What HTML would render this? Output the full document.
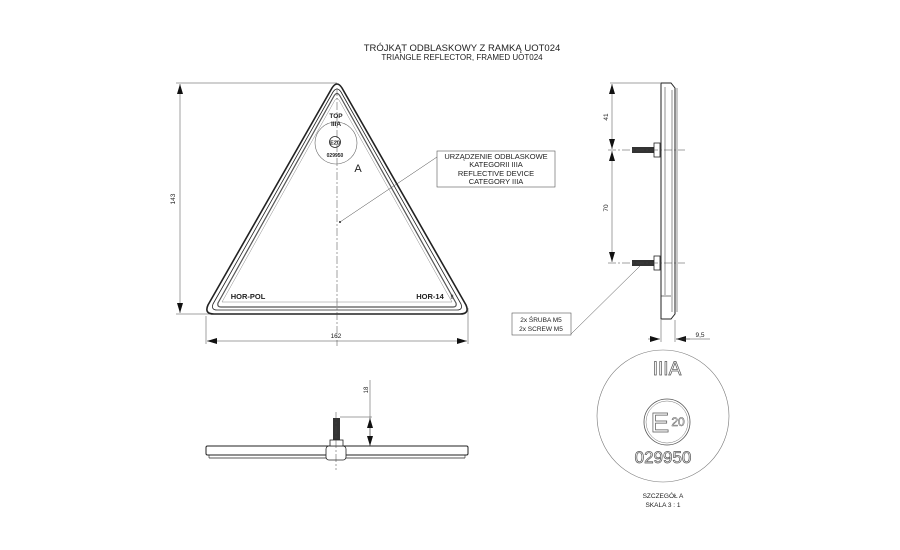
<!DOCTYPE html>
<html><head><meta charset="utf-8"><style>
html,body{margin:0;padding:0;background:#fff;width:900px;height:550px;overflow:hidden}
text{font-family:"Liberation Sans",sans-serif;fill:#222}
</style></head><body>
<svg width="900" height="550" viewBox="0 0 900 550" xmlns="http://www.w3.org/2000/svg">
<defs>
<marker id="ar" viewBox="0 0 10 6" refX="10" refY="3" markerWidth="10" markerHeight="6" orient="auto-start-reverse" markerUnits="userSpaceOnUse"><path d="M0,0L10,3L0,6z" fill="#111"/></marker>
</defs>
<!-- title -->
<text x="462" y="51" font-size="9.5" text-anchor="middle">TRÓJKĄT ODBLASKOWY Z RAMKĄ UOT024</text>
<text x="462" y="60" font-size="8" text-anchor="middle">TRIANGLE REFLECTOR, FRAMED UOT024</text>

<!-- triangle -->
<g fill="none" stroke="#222" stroke-linejoin="round">
<path d="M332,88 Q337,80 342,88 L466,305 Q470,314 460,314 L214,314 Q204,314 208,305 Z" stroke-width="1.6"/>
<path d="M333,92 Q337,86 341,92 L461,304 Q463,310 457,310 L217,310 Q211,310 213,304 Z" stroke-width="0.8"/>
<path d="M334,96 Q337,91 340,96 L456,303 Q457,307 453,307 L221,307 Q217,307 218,303 Z" stroke-width="1.2" stroke="#555"/>
<path d="M335,100 Q337,97 339,100 L452,302 L222,302 Z" stroke-width="0.5" stroke="#888"/>
</g>
<line x1="337" y1="88" x2="337" y2="346" stroke="#444" stroke-width="0.5" stroke-dasharray="8,2,2,2"/>
<circle cx="336" cy="143" r="21" fill="none" stroke="#666" stroke-width="0.6"/>
<text x="336" y="118" font-size="6.5" font-weight="bold" text-anchor="middle">TOP</text>
<text x="336" y="126" font-size="6.5" font-weight="bold" text-anchor="middle">IIIA</text>
<circle cx="335" cy="142" r="5.5" fill="none" stroke="#222" stroke-width="0.8"/>
<text x="335" y="144.5" font-size="5.5" font-weight="bold" text-anchor="middle">E20</text>
<text x="335" y="157" font-size="5" font-weight="bold" text-anchor="middle">029950</text>
<text x="358" y="172" font-size="11" text-anchor="middle">A</text>
<circle cx="340" cy="222" r="1" fill="#222"/>
<line x1="340" y1="222" x2="437" y2="157" stroke="#444" stroke-width="0.5"/>
<rect x="437" y="151" width="118" height="36" fill="#fff" stroke="#555" stroke-width="0.6"/>
<g font-size="7.5" text-anchor="middle">
<text x="496" y="159">URZĄDZENIE ODBLASKOWE</text>
<text x="496" y="167">KATEGORII IIIA</text>
<text x="496" y="176">REFLECTIVE DEVICE</text>
<text x="496" y="184">CATEGORY IIIA</text>
</g>
<text x="248" y="299" font-size="7.5" font-weight="bold" text-anchor="middle">HOR-POL</text>
<text x="430" y="299" font-size="7.5" font-weight="bold" text-anchor="middle">HOR-14</text>
<text x="452" y="299" font-size="6" text-anchor="middle">II</text>

<!-- dims triangle -->
<g stroke="#444" stroke-width="0.5">
<line x1="176" y1="83" x2="337" y2="83"/>
<line x1="176" y1="314" x2="210" y2="314"/>
<line x1="180" y1="84" x2="180" y2="313" marker-start="url(#ar)" marker-end="url(#ar)"/>
<line x1="206" y1="316" x2="206" y2="344"/>
<line x1="468" y1="308" x2="468" y2="344"/>
<line x1="207" y1="341" x2="467" y2="341" marker-start="url(#ar)" marker-end="url(#ar)"/>
</g>
<text x="175" y="199" font-size="6.5" text-anchor="middle" transform="rotate(-90 175 199)">143</text>
<text x="336" y="338" font-size="6.5" text-anchor="middle">162</text>

<!-- side view -->
<g fill="none" stroke="#222">
<path d="M661,83 L671,83 L675,88 L675,314 L671,319 L661,319 Z" stroke-width="1"/>
<line x1="665" y1="87" x2="665" y2="295" stroke-width="0.5"/>
<line x1="672" y1="90" x2="672" y2="312" stroke-width="0.5"/>
<line x1="661" y1="296" x2="671" y2="296" stroke-width="0.6"/>
<line x1="677" y1="88" x2="677" y2="312" stroke-width="0.5"/>
</g>
<g>
<rect x="632" y="147" width="22" height="6" fill="#333"/>
<rect x="654" y="143" width="6" height="14" fill="#fff" stroke="#222" stroke-width="0.8"/>
<rect x="632" y="260" width="22" height="6" fill="#333"/>
<rect x="654" y="256" width="6" height="14" fill="#fff" stroke="#222" stroke-width="0.8"/>
</g>
<g stroke="#444" stroke-width="0.5">
<line x1="608" y1="150" x2="685" y2="150" stroke-dasharray="8,2,2,2"/>
<line x1="608" y1="263" x2="685" y2="263" stroke-dasharray="8,2,2,2"/>
<line x1="610" y1="83" x2="660" y2="83"/>
<line x1="612" y1="84" x2="612" y2="149" marker-start="url(#ar)" marker-end="url(#ar)"/>
<line x1="612" y1="151" x2="612" y2="262" marker-start="url(#ar)" marker-end="url(#ar)"/>
<line x1="661" y1="320" x2="661" y2="342"/>
<line x1="675" y1="320" x2="675" y2="342"/>
<line x1="648" y1="339" x2="660" y2="339" marker-end="url(#ar)"/>
<line x1="690" y1="339" x2="676" y2="339" marker-end="url(#ar)"/>
<line x1="676" y1="339" x2="710" y2="339"/>
<line x1="571" y1="334" x2="640" y2="266"/>
</g>
<text x="608" y="117" font-size="6.5" text-anchor="middle" transform="rotate(-90 608 117)">41</text>
<text x="608" y="208" font-size="6.5" text-anchor="middle" transform="rotate(-90 608 208)">70</text>
<text x="700" y="337" font-size="6.5" text-anchor="middle">9,5</text>
<rect x="512" y="313" width="59" height="22" fill="#fff" stroke="#555" stroke-width="0.6"/>
<text x="541" y="322" font-size="6.5" text-anchor="middle">2x ŚRUBA M5</text>
<text x="541" y="331" font-size="6.5" text-anchor="middle">2x SCREW M5</text>

<!-- detail A -->
<circle cx="663" cy="416" r="66" fill="none" stroke="#777" stroke-width="0.6"/>
<text x="667" y="375" font-size="19" text-anchor="middle" fill="#fff" stroke="#555" stroke-width="0.7" style="fill:#fff">IIIA</text>
<circle cx="667" cy="422" r="23" fill="none" stroke="#555" stroke-width="0.8"/>
<circle cx="667" cy="422" r="21" fill="none" stroke="#777" stroke-width="0.5"/>
<text x="660" y="432" font-size="28" text-anchor="middle" stroke="#555" stroke-width="0.7" style="fill:#fff">E</text>
<text x="678" y="426" font-size="12" text-anchor="middle" stroke="#555" stroke-width="0.5" style="fill:#fff">20</text>
<text x="663" y="463" font-size="17" text-anchor="middle" stroke="#555" stroke-width="0.7" style="fill:#fff">029950</text>
<text x="663" y="498" font-size="6.5" text-anchor="middle">SZCZEGÓŁ A</text>
<text x="663" y="507" font-size="6.5" text-anchor="middle">SKALA 3 : 1</text>

<!-- bottom view -->
<g fill="none" stroke="#222">
<rect x="206" y="446" width="262" height="9" rx="1.5" stroke-width="1"/>
<line x1="209" y1="458" x2="465" y2="458" stroke-width="0.8"/>
<line x1="209" y1="455" x2="209" y2="458" stroke-width="0.6"/>
<line x1="465" y1="455" x2="465" y2="458" stroke-width="0.6"/>
<rect x="326" y="446" width="20" height="14" rx="3" fill="#fff" stroke-width="0.8"/>
</g>
<rect x="333" y="418" width="7" height="23" fill="#333"/>
<rect x="330" y="440" width="13" height="6" fill="#fff" stroke="#222" stroke-width="0.8"/>
<g stroke="#444" stroke-width="0.5">
<line x1="336" y1="412" x2="336" y2="470" stroke-dasharray="8,2,2,2"/>
<line x1="340" y1="417" x2="372" y2="417"/>
<line x1="370" y1="380" x2="370" y2="446"/>
<line x1="370" y1="432" x2="370" y2="418" marker-end="url(#ar)"/>
<line x1="370" y1="432" x2="370" y2="446" marker-end="url(#ar)"/>
</g>
<text x="368" y="390" font-size="6" text-anchor="middle" transform="rotate(-90 368 390)">18</text>
</svg>
</body></html>
